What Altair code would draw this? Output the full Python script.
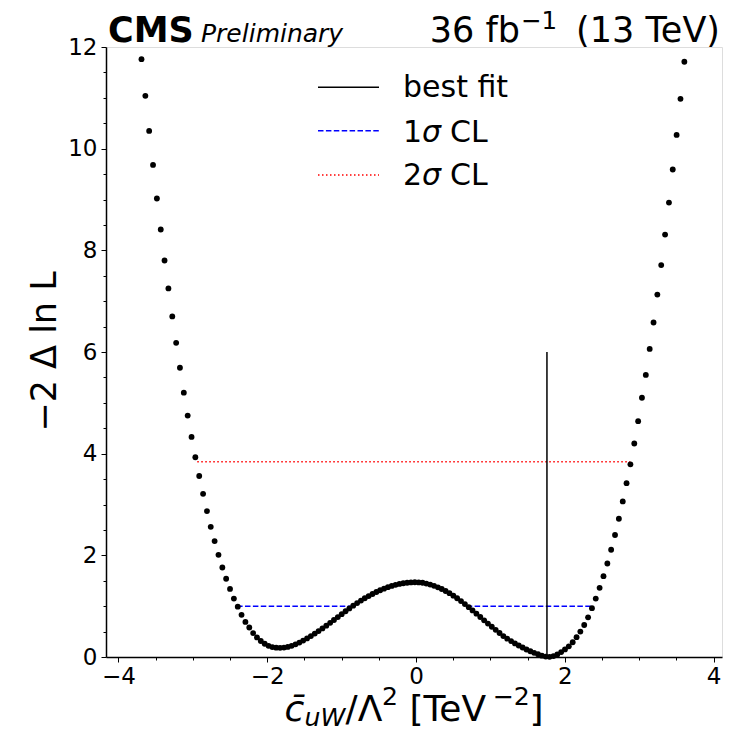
import altair as alt
import pandas as pd

# ---------------- data ----------------
x_scan = [
    -3.690, -3.638, -3.587, -3.535, -3.483, -3.431, -3.380, -3.328, -3.276, -3.224,
    -3.173, -3.121, -3.069, -3.017, -2.966, -2.914, -2.862, -2.810, -2.759, -2.707,
    -2.655, -2.603, -2.552, -2.500, -2.448, -2.396, -2.345, -2.293, -2.241, -2.189,
    -2.138, -2.086, -2.034, -1.982, -1.931, -1.879, -1.827, -1.775, -1.724, -1.672,
    -1.620, -1.568, -1.517, -1.465, -1.413, -1.361, -1.310, -1.258, -1.206, -1.154,
    -1.103, -1.051, -0.999, -0.947, -0.896, -0.844, -0.792, -0.740, -0.689, -0.637,
    -0.585, -0.533, -0.482, -0.430, -0.378, -0.326, -0.275, -0.223, -0.171, -0.119,
    -0.068, -0.016, 0.036, 0.088, 0.139, 0.191, 0.243, 0.295, 0.346, 0.398,
    0.450, 0.502, 0.553, 0.605, 0.657, 0.709, 0.760, 0.812, 0.864, 0.916,
    0.967, 1.019, 1.071, 1.123, 1.174, 1.226, 1.278, 1.330, 1.381, 1.433,
    1.485, 1.537, 1.588, 1.640, 1.692, 1.744, 1.795, 1.847, 1.899, 1.951,
    2.002, 2.054, 2.106, 2.158, 2.209, 2.261, 2.313, 2.365, 2.416, 2.468,
    2.520, 2.572, 2.623, 2.675, 2.727, 2.779, 2.830, 2.882, 2.934, 2.986,
    3.037, 3.089, 3.141, 3.193, 3.244, 3.296, 3.348, 3.400, 3.451, 3.503,
    3.555, 3.607,
]
nll_scan = [
    11.76, 11.04, 10.35, 9.68, 9.02, 8.41, 7.80, 7.25, 6.70, 6.18,
    5.69, 5.20, 4.75, 4.33, 3.93, 3.56, 3.21, 2.87, 2.56, 2.28,
    2.01, 1.76, 1.54, 1.34, 1.15, 0.99, 0.83, 0.69, 0.58, 0.47,
    0.385, 0.315, 0.26, 0.22, 0.195, 0.183, 0.18, 0.185, 0.199, 0.22,
    0.249, 0.283, 0.323, 0.366, 0.412, 0.46, 0.51, 0.563, 0.617, 0.672,
    0.728, 0.785, 0.842, 0.90, 0.955, 1.01, 1.061, 1.11, 1.156, 1.199,
    1.24, 1.278, 1.313, 1.345, 1.373, 1.398, 1.419, 1.437, 1.451, 1.461,
    1.468, 1.471, 1.468, 1.46, 1.445, 1.425, 1.40, 1.371, 1.337, 1.298,
    1.255, 1.207, 1.155, 1.10, 1.041, 0.98, 0.917, 0.852, 0.787, 0.722,
    0.658, 0.595, 0.535, 0.472, 0.412, 0.36, 0.313, 0.268, 0.226, 0.187,
    0.148, 0.113, 0.082, 0.054, 0.027, 0.008, 0.003, 0.018, 0.05, 0.097,
    0.15, 0.21, 0.29, 0.39, 0.50, 0.63, 0.78, 0.96, 1.15, 1.36,
    1.59, 1.84, 2.11, 2.40, 2.72, 3.06, 3.42, 3.79, 4.20, 4.64,
    5.10, 5.55, 6.06, 6.58, 7.13, 7.71, 8.31, 8.94, 9.59, 10.27,
    10.98, 11.71,
]

best_fit_x = [1.76]
best_fit_bottom = [0.0]
best_fit_top = [6.0]

cl1_start = [-2.405, 0.682]
cl1_end = [-0.866, 2.38]
cl1_level = [1.0, 1.0]

cl2_start = [-2.94]
cl2_end = [2.88]
cl2_level = [3.84]

x_domain = [-4.167, 4.113]
y_domain = [0, 12]
x_major_ticks = [-4, -2, 0, 2, 4]
x_minor_ticks = [-3.5, -3, -2.5, -1.5, -1, -0.5, 0.5, 1, 1.5, 2.5, 3, 3.5]
y_major_ticks = [0, 2, 4, 6, 8, 10, 12]
y_minor_ticks = [0.5, 1, 1.5, 2.5, 3, 3.5, 4.5, 5, 5.5, 6.5, 7, 7.5,
                 8.5, 9, 9.5, 10.5, 11, 11.5]

legend_labels = ["best fit", "1", "2"]
y_title = "\u22122 \u0394 ln L"

# ---------------- chart ----------------
FONT = "DejaVu Sans"
W, H = 616, 610

scan = pd.DataFrame({"x": x_scan, "y": nll_scan})
bf = pd.DataFrame({"x": best_fit_x, "y": best_fit_bottom, "y2": best_fit_top})
cl1 = pd.DataFrame({"x": cl1_start, "x2": cl1_end, "y": cl1_level})
cl2 = pd.DataFrame({"x": cl2_start, "x2": cl2_end, "y": cl2_level})
anchor = pd.DataFrame({"a": [0]})

xs = alt.Scale(domain=x_domain, nice=False, zero=False)
ys = alt.Scale(domain=y_domain, nice=False, zero=False)

x_major_axis = alt.Axis(
    orient="bottom", values=x_major_ticks, format="d", tickSize=5, tickWidth=1,
    tickColor="black", labelFontSize=23, labelFont=FONT, labelColor="black",
    labelPadding=3, domainColor="black", domainWidth=1.5, grid=False, title=None,
)
x_minor_axis = alt.Axis(
    orient="bottom", values=x_minor_ticks, tickSize=3, tickWidth=1,
    tickColor="black", labels=False, domain=False, grid=False, title=None,
)
y_major_axis = alt.Axis(
    orient="left", values=y_major_ticks, format="d", tickSize=5, tickWidth=1,
    tickColor="black", labelFontSize=23, labelFont=FONT, labelColor="black",
    labelPadding=4, domainColor="black", domainWidth=1.5, grid=False,
    title=y_title, titleFont=FONT, titleFontSize=35, titleFontWeight="normal",
    titleColor="black", titleAngle=270, titleBaseline="alphabetic",
    titleAlign="center", titleX=-51, titleY=304,
)
y_minor_axis = alt.Axis(
    orient="left", values=y_minor_ticks, tickSize=3, tickWidth=1,
    tickColor="black", labels=False, domain=False, grid=False, title=None,
)

points = alt.Chart(scan).mark_circle(size=34, color="black", opacity=1).encode(
    x=alt.X("x:Q", scale=xs, axis=x_major_axis),
    y=alt.Y("y:Q", scale=ys, axis=y_major_axis),
)
minor = alt.Chart(scan).mark_circle(size=1, opacity=0).encode(
    x=alt.X("x:Q", scale=xs, axis=x_minor_axis),
    y=alt.Y("y:Q", scale=ys, axis=y_minor_axis),
)
cl2_rule = alt.Chart(cl2).mark_rule(color="red", strokeWidth=1.5, strokeDash=[1.5, 2.5]).encode(
    x=alt.X("x:Q", scale=xs, axis=None), x2="x2:Q",
    y=alt.Y("y:Q", scale=ys, axis=None),
)
cl1_rule = alt.Chart(cl1).mark_rule(color="blue", strokeWidth=1.5, strokeDash=[5.5, 2.4]).encode(
    x=alt.X("x:Q", scale=xs, axis=None), x2="x2:Q",
    y=alt.Y("y:Q", scale=ys, axis=None),
)
bf_rule = alt.Chart(bf).mark_rule(color="black", strokeWidth=1.5).encode(
    x=alt.X("x:Q", scale=xs, axis=None),
    y=alt.Y("y:Q", scale=ys, axis=None), y2="y2:Q",
)


def txt(text, x, y, size, style="normal", weight="normal", align="left"):
    return alt.Chart(anchor).mark_text(
        font=FONT, fontSize=size, fontStyle=style, fontWeight=weight,
        align=align, baseline="alphabetic", color="black",
    ).encode(x=alt.value(x), y=alt.value(y), text=alt.value(text))


def hrule(x1, x2, y, color, dash):
    kw = dict(color=color, strokeWidth=1.5)
    if dash:
        kw["strokeDash"] = dash
    return alt.Chart(anchor).mark_rule(**kw).encode(
        x=alt.value(x1), x2=alt.value(x2), y=alt.value(y)
    )


# header
header = [
    txt("CMS", 2, -5, 35, weight="bold"),
    txt("Preliminary", 95, -5, 25, style="italic"),
    txt("36 fb", 414, -5, 35, align="right"),
    txt("\u22121", 415, -18, 24.5),
    txt("(13 TeV)", 614, -5, 35, align="right"),
]

# x-axis title built from pieces (mathtext style)
xt_base = 674
xtitle = [
    txt("c\u0304", 178.5, xt_base, 36, style="italic"),
    txt("uW", 198.5, xt_base + 5, 25.2, style="italic"),
    txt("/\u039b", 239.5, xt_base, 36),
    txt("2", 276.0, xt_base - 16, 25.2),
    txt("[TeV", 303.4, xt_base, 36),
    txt("\u22122", 386.6, xt_base - 16, 25.2),
    txt("]", 423.5, xt_base, 36),
]

# manual legend
legend = [
    hrule(212, 273, 40.3, "black", None),
    hrule(212, 273, 83.7, "blue", [5.5, 2.4]),
    hrule(212, 273, 128, "red", [1.5, 2.5]),
    txt(legend_labels[0], 297, 50.3, 30),
    txt(legend_labels[1], 297, 94.7, 30),
    txt("\u03c3", 316, 94.7, 30, style="italic"),
    txt("CL", 344, 94.7, 30),
    txt(legend_labels[2], 297, 138, 30),
    txt("\u03c3", 316, 138, 30, style="italic"),
    txt("CL", 344, 138, 30),
]

chart = alt.layer(
    minor, cl2_rule, cl1_rule, points, bf_rule, *legend, *header, *xtitle
).resolve_axis(x="independent", y="independent").properties(
    width=W, height=H,
    autosize=alt.AutoSizeParams(type="none"),
    padding={"left": 106, "top": 47, "right": 14, "bottom": 76},
).configure_view(stroke="#808080", strokeWidth=1.5).configure(
    font=FONT, background="white"
)

chart.save("out.html", embed_options={"renderer": "svg", "actions": False})
